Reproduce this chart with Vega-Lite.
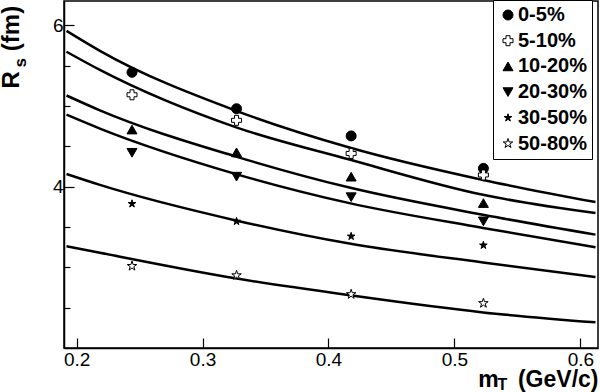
{
  "$schema": "https://vega.github.io/schema/vega-lite/v6.json",
  "width": 534,
  "height": 347,
  "autosize": {"type": "none"},
  "padding": {"left": 64, "top": 1, "right": 2, "bottom": 44},
  "background": "white",
  "config": {
    "view": {"stroke": "black", "strokeWidth": 1.5},
    "font": "Liberation Sans",
    "axis": {"domainColor": "black", "tickColor": "black", "labelColor": "black", "titleColor": "black", "grid": false, "labelFont": "Liberation Sans", "titleFont": "Liberation Sans", "domainWidth": 1.5, "tickWidth": 1.2},
    "legend": {"title": null, "orient": "none", "legendX": 429, "legendY": -1, "direction": "vertical", "padding": 5, "strokeColor": "black", "fillColor": "white",
      "labelFont": "Liberation Sans", "labelFontSize": 20, "labelFontWeight": "bold", "labelColor": "black", "symbolSize": 100, "symbolOffset": 0, "labelOffset": 0, "rowPadding": 5.7,
      "symbolStrokeColor": "black", "symbolStrokeWidth": 1}
  },
  "datasets": {
    "fits": [
      {"curve": "c1", "mT": 0.192, "R": 5.930}, {"curve": "c1", "mT": 0.2185, "R": 5.683}, {"curve": "c1", "mT": 0.3273, "R": 4.936}, {"curve": "c1", "mT": 0.4166, "R": 4.485}, {"curve": "c1", "mT": 0.5227, "R": 4.083}, {"curve": "c1", "mT": 0.612, "R": 3.808},
      {"curve": "c2", "mT": 0.192, "R": 5.671}, {"curve": "c2", "mT": 0.2185, "R": 5.446}, {"curve": "c2", "mT": 0.3273, "R": 4.731}, {"curve": "c2", "mT": 0.4166, "R": 4.335}, {"curve": "c2", "mT": 0.5227, "R": 3.898}, {"curve": "c2", "mT": 0.612, "R": 3.672},
      {"curve": "c3", "mT": 0.192, "R": 5.129}, {"curve": "c3", "mT": 0.2185, "R": 4.945}, {"curve": "c3", "mT": 0.3273, "R": 4.369}, {"curve": "c3", "mT": 0.4166, "R": 3.988}, {"curve": "c3", "mT": 0.5227, "R": 3.651}, {"curve": "c3", "mT": 0.612, "R": 3.405},
      {"curve": "c4", "mT": 0.192, "R": 4.891}, {"curve": "c4", "mT": 0.2185, "R": 4.719}, {"curve": "c4", "mT": 0.3273, "R": 4.152}, {"curve": "c4", "mT": 0.4166, "R": 3.795}, {"curve": "c4", "mT": 0.5227, "R": 3.488}, {"curve": "c4", "mT": 0.612, "R": 3.249},
      {"curve": "c5", "mT": 0.192, "R": 4.156}, {"curve": "c5", "mT": 0.2185, "R": 4.021}, {"curve": "c5", "mT": 0.3273, "R": 3.578}, {"curve": "c5", "mT": 0.4166, "R": 3.294}, {"curve": "c5", "mT": 0.5227, "R": 3.060}, {"curve": "c5", "mT": 0.612, "R": 2.880},
      {"curve": "c6", "mT": 0.192, "R": 3.261}, {"curve": "c6", "mT": 0.2185, "R": 3.180}, {"curve": "c6", "mT": 0.3273, "R": 2.860}, {"curve": "c6", "mT": 0.4166, "R": 2.654}, {"curve": "c6", "mT": 0.5227, "R": 2.441}, {"curve": "c6", "mT": 0.612, "R": 2.318}
    ],
    "points": [
      {"cent": "0-5%", "mT": 0.244, "R": 5.416}, {"cent": "0-5%", "mT": 0.327, "R": 4.965}, {"cent": "0-5%", "mT": 0.418, "R": 4.628}, {"cent": "0-5%", "mT": 0.523, "R": 4.226},
      {"cent": "5-10%", "mT": 0.244, "R": 5.138}, {"cent": "5-10%", "mT": 0.327, "R": 4.821}, {"cent": "5-10%", "mT": 0.418, "R": 4.411}, {"cent": "5-10%", "mT": 0.523, "R": 4.144},
      {"cent": "10-20%", "mT": 0.244, "R": 4.707}, {"cent": "10-20%", "mT": 0.327, "R": 4.424}, {"cent": "10-20%", "mT": 0.418, "R": 4.123}, {"cent": "10-20%", "mT": 0.523, "R": 3.796},
      {"cent": "20-30%", "mT": 0.244, "R": 4.419}, {"cent": "20-30%", "mT": 0.327, "R": 4.123}, {"cent": "20-30%", "mT": 0.418, "R": 3.869}, {"cent": "20-30%", "mT": 0.523, "R": 3.569},
      {"cent": "30-50%", "mT": 0.244, "R": 3.787}, {"cent": "30-50%", "mT": 0.327, "R": 3.569}, {"cent": "30-50%", "mT": 0.418, "R": 3.384}, {"cent": "30-50%", "mT": 0.523, "R": 3.273},
      {"cent": "50-80%", "mT": 0.244, "R": 3.015}, {"cent": "50-80%", "mT": 0.327, "R": 2.900}, {"cent": "50-80%", "mT": 0.418, "R": 2.666}, {"cent": "50-80%", "mT": 0.523, "R": 2.555}
    ]
  },
  "resolve": {"axis": {"x": "independent", "y": "independent"}},
  "layer": [
    {
      "data": {"name": "fits"},
      "mark": {"type": "line", "interpolate": "monotone", "color": "black", "strokeWidth": 2.5, "clip": true},
      "encoding": {
        "x": {"field": "mT", "type": "quantitative", "scale": {"domain": [0.19, 0.614], "nice": false, "zero": false},
          "axis": {"orient": "bottom", "values": [0.2, 0.3, 0.4, 0.5, 0.6], "format": ".1f", "tickSize": -10, "labelFontSize": 19, "labelPadding": 12, "labelFlush": false,
            "title": "m\u00a0\u00a0\u00a0(GeV/c)", "titleFontSize": 23, "titleFontWeight": "bold", "titleX": 534, "titleY": 38, "titleAlign": "right", "titleBaseline": "alphabetic", "titleAnchor": null}},
        "y": {"field": "R", "type": "quantitative", "scale": {"domain": [2.0, 6.3], "nice": false, "zero": false},
          "axis": {"orient": "left", "values": [2.5, 3, 3.5, 4, 4.5, 5, 5.5, 6], "labelExpr": "datum.value == 4 ? '4' : (datum.value == 6 ? '6' : '')",
            "tickSize": {"condition": {"test": "datum.value != 4 && datum.value != 6", "value": -6}, "value": -10},
            "labelFontSize": 19, "labelPadding": 11, "labelBaseline": "middle",
            "title": "R\u00a0\u00a0\u00a0(fm)", "titleFontSize": 24, "titleFontWeight": "bold", "titleAngle": -90, "titleX": -46, "titleY": 87, "titleAlign": "left", "titleBaseline": "alphabetic", "titleAnchor": null}},
        "detail": {"field": "curve"}
      }
    },
    {
      "data": {"name": "points"},
      "mark": {"type": "point", "filled": true, "opacity": 1, "strokeWidth": 1, "size": 100},
      "encoding": {
        "x": {"field": "mT", "type": "quantitative",
          "axis": {"orient": "bottom", "domain": false, "ticks": false, "labels": false, "grid": false, "title": "T", "titleFontSize": 16, "titleFontWeight": "bold", "titleX": 433, "titleY": 41, "titleAlign": "left", "titleBaseline": "alphabetic", "titleAnchor": null}},
        "y": {"field": "R", "type": "quantitative",
          "axis": {"orient": "left", "domain": false, "ticks": false, "labels": false, "grid": false, "title": "s", "titleFontSize": 17, "titleFontWeight": "bold", "titleAngle": -90, "titleX": -39, "titleY": 66, "titleAlign": "left", "titleBaseline": "alphabetic", "titleAnchor": null}},
        "shape": {"field": "cent", "type": "nominal",
          "scale": {"domain": ["0-5%", "5-10%", "10-20%", "20-30%", "30-50%", "50-80%"],
            "range": ["circle", "cross", "triangle-up", "triangle-down",
              "M0,-0.8L0.18,-0.247L0.761,-0.247L0.29,0.094L0.47,0.647L0,0.306L-0.47,0.647L-0.29,0.094L-0.761,-0.247L-0.18,-0.247Z",
              "M0,-1L0.2245,-0.309L0.951,-0.309L0.363,0.118L0.588,0.809L0,0.382L-0.588,0.809L-0.363,0.118L-0.951,-0.309L-0.2245,-0.309Z"]}},
        "fill": {"field": "cent", "type": "nominal",
          "scale": {"domain": ["0-5%", "5-10%", "10-20%", "20-30%", "30-50%", "50-80%"], "range": ["black", "white", "black", "black", "black", "white"]}},
        "stroke": {"field": "cent", "type": "nominal",
          "scale": {"domain": ["0-5%", "5-10%", "10-20%", "20-30%", "30-50%", "50-80%"], "range": ["black", "black", "black", "black", "black", "black"]}}
      }
    }
  ]
}
